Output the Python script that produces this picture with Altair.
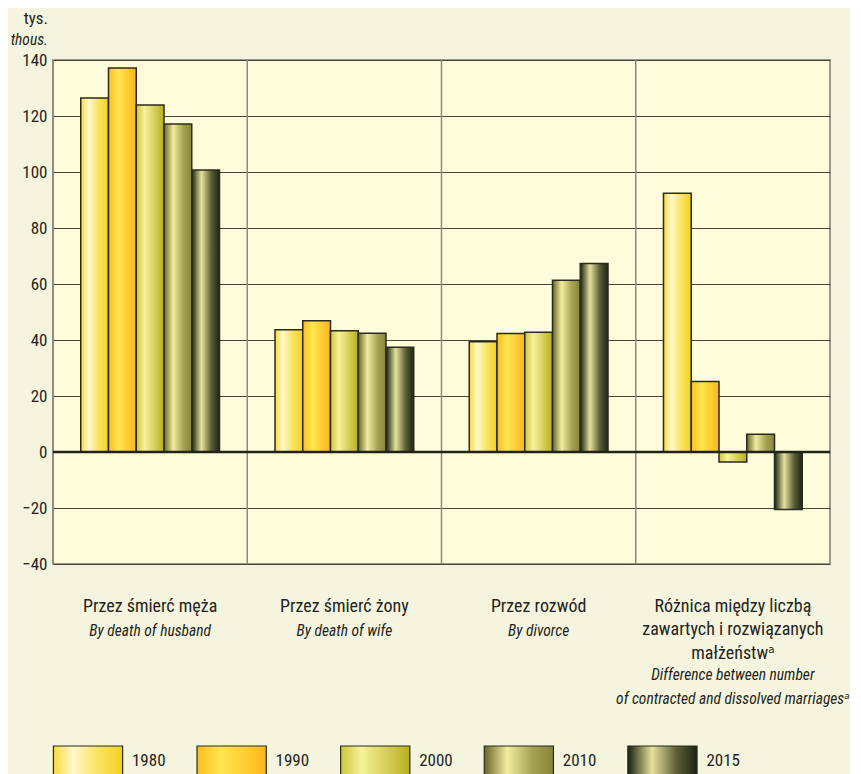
import altair as alt
import pandas as pd

FONT = "Liberation Sans Narrow, Roboto Condensed, DejaVu Sans Condensed, sans-serif"
TXT = "#231f20"

years = ["1980", "1990", "2000", "2010", "2015"]
cats = ["Przez śmierć męża", "Przez śmierć żony", "Przez rozwód", "Różnica"]
v1980 = [126.4, 43.7, 39.4, 92.4]
v1990 = [137.1, 46.9, 42.3, 25.2]
v2000 = [123.9, 43.3, 42.8, -3.6]
v2010 = [117.1, 42.4, 61.3, 6.3]
v2015 = [100.7, 37.4, 67.3, -20.5]
pl_labels = [
    ["Przez śmierć męża"],
    ["Przez śmierć żony"],
    ["Przez rozwód"],
    ["Różnica między liczbą", "zawartych i rozwiązanych", "małżeństwᵃ"],
]
en_labels = [
    ["By death of husband"],
    ["By death of wife"],
    ["By divorce"],
    ["Difference between number", "of contracted and dissolved marriagesᵃ"],
]
y_ticks = [-40, -20, 0, 20, 40, 60, 80, 100, 120, 140]

series = {"1980": v1980, "1990": v1990, "2000": v2000, "2010": v2010, "2015": v2015}
rows = []
for y in years:
    for c, v in zip(cats, series[y]):
        rows.append({"cat": c, "year": y, "value": v})
df = pd.DataFrame(rows)

def grad(stops):
    return {
        "gradient": "linear", "x1": 0, "x2": 1, "y1": 0, "y2": 0,
        "stops": [{"offset": o, "color": c} for o, c in stops],
    }

fills = {
    "1980": grad([(0, "#f7da3a"), (0.28, "#fff8cc"), (0.55, "#fbe97a"), (1, "#f4d01a")]),
    "1990": grad([(0, "#fbbd24"), (0.35, "#ffe64e"), (1, "#fbb61c")]),
    "2000": grad([(0, "#cdc43c"), (0.3, "#f6f29a"), (1, "#b8af1e")]),
    "2010": grad([(0, "#66652a"), (0.33, "#f1ec9e"), (0.7, "#a4a252"), (1, "#858336")]),
    "2015": grad([(0, "#18200f"), (0.35, "#e6e29c"), (0.7, "#5d6038"), (1, "#1b2512")]),
}

def label_expr(lbls):
    expr = "''"
    for c, l in reversed(list(zip(cats, lbls))):
        arr = "[" + ",".join("'" + s + "'" for s in l) + "]"
        expr = f"datum.value == '{c}' ? {arr} : ({expr})"
    return expr

LH = 23.5
PAD = 33
xscale = alt.Scale(domain=cats, paddingInner=0, paddingOuter=0)
yscale = alt.Scale(domain=[-40, 140], nice=False, zero=False)
xoff = alt.XOffset("year:N", scale=alt.Scale(domain=years, paddingInner=0, paddingOuter=1))

axis_common = dict(
    orient="bottom", title=None, domain=False, ticks=False, grid=False,
    labelAngle=0, labelFont=FONT,
    labelColor=TXT, labelLineHeight=LH, labelBaseline="top", labelAlign="center",
    labelLimit=500, labelOverlap=False,
)
pl_axis = alt.Axis(labelExpr=label_expr(pl_labels), labelPadding=PAD, labelFontSize=18,
                   **axis_common)
en_axis = alt.Axis(
    labelExpr=label_expr(en_labels), labelFontStyle="italic", labelFontSize=15.5,
    labelPadding={"condition": {"test": f"datum.value == '{cats[3]}'", "value": PAD + 3 * LH},
                  "value": PAD + 26},
    **axis_common,
)

y_axis = alt.Axis(
    values=y_ticks, title=None, domain=False, ticks=False, labelPadding=6,
    labelFontSize=17, labelFont=FONT, labelColor=TXT,
    grid=True, gridColor="#45453d", gridWidth=1.2,
)

catdf = pd.DataFrame({"cat": cats})
sep = alt.Chart(catdf).mark_rule(color="#8a8a80", strokeWidth=1.5).encode(
    x=alt.X("cat:N", bandPosition=0, sort=cats, scale=xscale, axis=None)
)

bar_layers = []
for i, y in enumerate(years):
    bar_layers.append(
        alt.Chart(df[df["year"] == y]).mark_bar(
            fill=fills[y], stroke="#2b2b1c", strokeWidth=1.5
        ).encode(
            x=alt.X("cat:N", sort=cats, scale=xscale, axis=pl_axis if i == 0 else None),
            xOffset=xoff,
            y=alt.Y("value:Q", scale=yscale, axis=y_axis),
        )
    )

en_layer = alt.Chart(catdf).mark_rule(opacity=0).encode(
    x=alt.X("cat:N", sort=cats, scale=xscale, axis=en_axis)
)

zero = alt.Chart(pd.DataFrame({"z": [0]})).mark_rule(color="#222218", strokeWidth=2.5).encode(
    y=alt.Y("z:Q", scale=yscale, axis=y_axis)
)

main = alt.layer(sep, *bar_layers, en_layer, zero).resolve_axis(x="independent").properties(
    width=777, height=504,
    title=alt.TitleParams(
        text="tys.", subtitle="thous.", anchor="start", align="right", dx=-5,
        font=FONT, fontSize=17, fontWeight="normal", color=TXT,
        subtitleFont=FONT, subtitleFontSize=15.5, subtitleFontStyle="italic",
        subtitleColor=TXT, subtitlePadding=5, offset=2, frame="group",
    ),
)

ldf = pd.DataFrame({"year": years})
lscale = alt.Scale(domain=years, paddingInner=0, paddingOuter=0)
leg_layers = []
for y in years:
    leg_layers.append(
        alt.Chart(ldf[ldf["year"] == y]).mark_rect(
            fill=fills[y], stroke="#2b2b1c", strokeWidth=1.2
        ).encode(
            x=alt.X("year:N", bandPosition=0.003, scale=lscale, axis=None),
            x2=alt.X2("year", bandPosition=0.485),
        )
    )
leg_text = alt.Chart(ldf).mark_text(
    align="left", baseline="middle", font=FONT, fontSize=17, color=TXT
).encode(
    x=alt.X("year:N", bandPosition=0.55, scale=lscale, axis=None),
    text="year:N",
)
legend = alt.layer(*leg_layers, leg_text).properties(
    width=718, height=30,
    view=alt.ViewBackground(fill="transparent", stroke="transparent"),
)

chart = alt.vconcat(main, legend, spacing=36).configure(
    background="#f5f5df", padding={"left": 1, "top": 0, "right": 0, "bottom": 0}
).configure_view(fill="#fffcdb", stroke="#7a7a70", strokeWidth=1.5)

chart.save("out.html", embed_options={"renderer": "svg", "actions": False})
